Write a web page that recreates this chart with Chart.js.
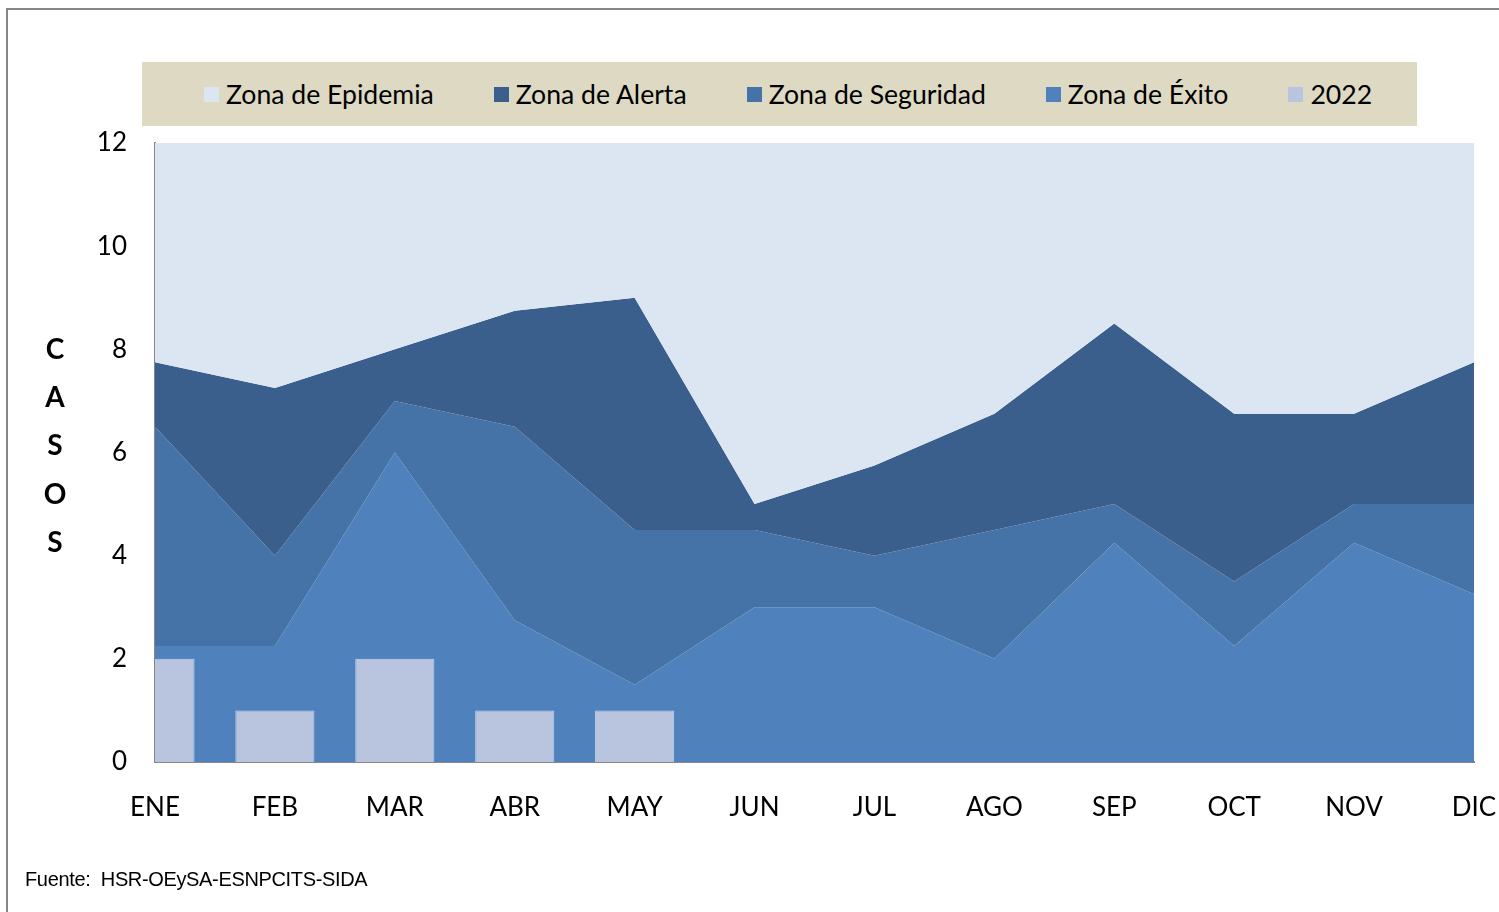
<!DOCTYPE html>
<html lang="es">
<head>
<meta charset="utf-8">
<title>Canal endémico 2022</title>
<script src="https://cdn.jsdelivr.net/npm/chart.js@4.4.1/dist/chart.umd.min.js"></script>
<style>
  html, body { margin: 0; padding: 0; background: #fff; overflow: hidden; }
  #lienzo { position: relative; width: 1499px; height: 912px; }
  #marco {
    position: absolute; left: 6px; top: 8px; width: 1600px; height: 1000px;
    border-left: 2px solid #878787; border-top: 2px solid #878787;
  }
  #grafico-wrap { position: absolute; left: 0; top: 0; width: 1499px; height: 912px; }
  #leyenda {
    position: absolute; left: 142px; top: 62px; width: 1275px; height: 64px;
    background: #ddd9c3; display: flex; align-items: center;
    padding-left: 62px; box-sizing: border-box; gap: 60px;
    font-family: Lato, "Open Sans", sans-serif; font-size: 26.6px; color: #000;
  }
  #leyenda .item { display: flex; align-items: center; gap: 7px; white-space: nowrap; }
  #leyenda .caja { width: 15px; height: 15px; }
  #fuente {
    position: absolute; left: 25px; top: 868px;
    font-family: "Liberation Sans", Arial, sans-serif; font-size: 20px;
    letter-spacing: -0.35px; color: #000;
  }
</style>
</head>
<body>
<div id="lienzo">
  <div id="marco"></div>
  <div id="grafico-wrap"><canvas id="grafico-canal"></canvas></div>
  <div id="leyenda"></div>
  <div id="fuente">Fuente:&nbsp; HSR-OEySA-ESNPCITS-SIDA</div>
</div>

<script>
// meses del año
const meses = ['ENE', 'FEB', 'MAR', 'ABR', 'MAY', 'JUN', 'JUL', 'AGO', 'SEP', 'OCT', 'NOV', 'DIC'];

// umbrales del canal endémico (límite superior de cada zona)
const limiteExito     = [2.25, 2.25, 6, 2.75, 1.5, 3, 3, 2, 4.25, 2.25, 4.25, 3.25];
const limiteSeguridad = [6.5, 4, 7, 6.5, 4.5, 4.5, 4, 4.5, 5, 3.5, 5, 5];
const limiteAlerta    = [7.75, 7.25, 8, 8.75, 9, 5, 5.75, 6.75, 8.5, 6.75, 6.75, 7.75];

// casos notificados 2022
const casos2022 = [2, 1, 2, 1, 1, null, null, null, null, null, null, null];

// eje Y
const ejeMin = 0;
const ejeMax = 12;
const ejePaso = 2;

const FUENTE = 'Lato, "Open Sans", sans-serif';

// Título vertical del eje Y, letra por letra
const tituloCasos = {
  id: 'tituloCasos',
  afterDraw(chart) {
    const ctx = chart.ctx;
    const letras = 'CASOS'.split('');
    const { top, bottom } = chart.chartArea;
    const centro = top + (bottom - top) * 0.49;
    const salto = 48.3;
    ctx.save();
    ctx.font = 'bold 28px ' + FUENTE;
    ctx.fillStyle = '#000';
    ctx.textAlign = 'center';
    ctx.textBaseline = 'middle';
    letras.forEach((l, i) => {
      ctx.fillText(l, 55, centro + (i - 2) * salto);
    });
    ctx.restore();
  }
};

const zona = (label, data, color, fill) => ({
  type: 'line',
  label,
  data,
  backgroundColor: color,
  borderColor: 'transparent',
  borderWidth: 0,
  pointRadius: 0,
  pointHoverRadius: 0,
  tension: 0,
  fill,
  order: 1
});

const ctx = document.getElementById('grafico-canal').getContext('2d');
const grafico = new Chart(ctx, {
  type: 'line',
  data: {
    labels: meses,
    datasets: [
      zona('Zona de Epidemia', limiteAlerta, '#dce6f2', 'end'),
      zona('Zona de Alerta', limiteAlerta, '#3b5f8d', 2),
      zona('Zona de Seguridad', limiteSeguridad, '#4572a7', 3),
      zona('Zona de Éxito', limiteExito, '#4f81bd', 'origin'),
      {
        type: 'bar',
        label: '2022',
        data: casos2022,
        backgroundColor: '#b9c5df',
        borderColor: 'rgba(225,232,245,0.8)',
        borderWidth: 1,
        barPercentage: 0.66,
        categoryPercentage: 1,
        clip: 0,
        order: 0
      }
    ]
  },
  options: {
    responsive: true,
    maintainAspectRatio: false,
    animation: false,
    layout: { padding: { top: 143, left: 0, right: 25, bottom: 90 } },
    plugins: {
      legend: { display: false },
      tooltip: { enabled: false }
    },
    scales: {
      x: {
        offset: false,
        grid: { display: false, drawTicks: false },
        border: { display: true, color: '#878787', width: 2 },
        ticks: {
          color: '#000',
          font: { family: FUENTE, size: 26 },
          padding: 30,
          maxRotation: 0,
          autoSkip: false
        },
        afterFit(scale) {
          // "DIC" puede salirse por la derecha, como en el original
          scale.height = 60;
          scale.paddingLeft = 0;
          scale.paddingRight = 0;
        }
      },
      y: {
        min: ejeMin,
        max: ejeMax,
        grid: { display: false, drawTicks: false },
        border: { display: true, color: '#878787', width: 2 },
        ticks: {
          stepSize: ejePaso,
          color: '#000',
          font: { family: FUENTE, size: 26 },
          padding: 28
        },
        afterFit(scale) { scale.width = 155; }
      }
    }
  },
  plugins: [tituloCasos]
});

// Leyenda HTML a partir de los datasets
function renderLeyenda(chart) {
  const cont = document.getElementById('leyenda');
  cont.innerHTML = '';
  chart.data.datasets.forEach(ds => {
    const item = document.createElement('div');
    item.className = 'item';
    const caja = document.createElement('span');
    caja.className = 'caja';
    caja.style.background = ds.backgroundColor;
    const texto = document.createElement('span');
    texto.textContent = ds.label;
    item.appendChild(caja);
    item.appendChild(texto);
    cont.appendChild(item);
  });
}
renderLeyenda(grafico);
</script>
</body>
</html>
